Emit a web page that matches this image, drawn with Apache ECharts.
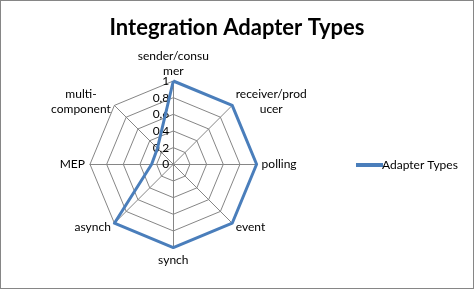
<!DOCTYPE html>
<html>
<head>
<meta charset="utf-8">
<script src="https://cdn.jsdelivr.net/npm/echarts@6/dist/echarts.min.js"></script>
<style>
html,body{margin:0;padding:0;background:#fff;}
#frame{width:474px;height:289px;box-sizing:border-box;border:1px solid #868686;}
#main{width:472px;height:287px;}
</style>
</head>
<body>
<div id="frame"><div id="main"></div></div>
<script>
const title = 'Integration Adapter Types';
const seriesName = 'Adapter Types';
// categories in clockwise order starting at the top
const categories = ['sender/consu\nmer', 'receiver/prod\nucer', 'polling', 'event', 'synch', 'asynch', 'MEP', 'multi-\ncomponent'];
const values = [1, 1, 1, 1, 1, 1, 0.26, 0.27];
const tickValues = [0, 0.2, 0.4, 0.6, 0.8, 1];

// ECharts radar runs counter-clockwise: keep first, reverse rest
const order = [0].concat(categories.map((c, i) => i).slice(1).reverse());
const font = 'Lato, "Liberation Sans", sans-serif';

function makeIndicators(withLabel) {
  return order.map((i, k) => {
    const ind = { name: categories[i], min: 0, max: 1 };
    if (withLabel && k === 0) {
      ind.axisLabel = {
        show: true,
        color: '#000',
        fontSize: 12,
        fontFamily: font,
        margin: 4,
        formatter: v => String(v).replace('.', ',')
      };
    }
    return ind;
  });
}

const richName = {
  c: { align: 'center', color: '#000', fontFamily: font, fontSize: 12, lineHeight: 15 }
};
const toRich = name => name.split('\n').map(s => '{c|' + s + '}').join('\n');

const common = {
  center: [172.3, 163.3],
  radius: 83.3,
  startAngle: 90,
  shape: 'polygon',
  splitNumber: 5,
  splitArea: { show: false },
  axisLabel: { show: false }
};

const chart = echarts.init(document.getElementById('main'));
chart.setOption({
  animation: false,
  backgroundColor: '#fff',
  title: {
    text: title,
    left: 'center',
    top: 11,
    textStyle: { fontFamily: font, fontWeight: 'bold', fontSize: 22, color: '#000' }
  },
  legend: {
    data: [seriesName],
    orient: 'vertical',
    left: 350,
    top: 153,
    itemWidth: 27,
    itemHeight: 4,
    itemGap: 4,
    icon: 'rect',
    textStyle: { fontFamily: font, fontSize: 12, color: '#000', padding: [0, 0, 0, -6] }
  },
  radar: [
    Object.assign({}, common, {
      nameGap: 5,
      axisName: {
        color: '#000', fontFamily: font, fontSize: 12, lineHeight: 15,
        formatter: name => name === categories[0] ? '' : toRich(name),
        rich: richName
      },
      axisLine: { lineStyle: { color: '#868686', width: 1 } },
      splitLine: { lineStyle: { color: '#868686', width: 1 } },
      indicator: makeIndicators(true)
    }),
    Object.assign({}, common, {
      nameGap: 2,
      axisName: {
        color: '#000', fontFamily: font, fontSize: 12, lineHeight: 15,
        formatter: name => name === categories[0] ? toRich(name) : '',
        rich: richName
      },
      axisLine: { show: false },
      splitLine: { show: false },
      indicator: makeIndicators(false)
    })
  ],
  series: [{
    type: 'radar',
    name: seriesName,
    radarIndex: 0,
    symbol: 'none',
    lineStyle: { color: '#4A7EBB', width: 3 },
    itemStyle: { color: '#4A7EBB' },
    data: [{ name: seriesName, value: order.map(i => values[i]) }]
  }]
});
</script>
</body>
</html>
